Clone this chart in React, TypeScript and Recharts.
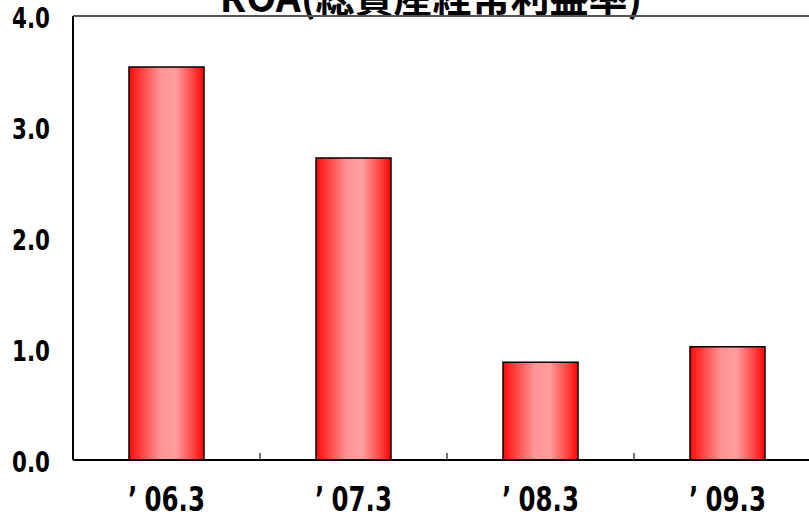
import { BarChart, Bar, XAxis, YAxis, ReferenceLine } from 'recharts'

const periods = ['’06.3', '’07.3', '’08.3', '’09.3']
const roa = [3.54, 2.72, 0.88, 1.02]
const yTicks = [0, 1, 2, 3, 4]

const data = periods.map((period, i) => ({ period, roa: roa[i] }))

const tickFont = '"DejaVu Sans Condensed", "DejaVu Sans", sans-serif'

// category label: narrow bold digits, the leading quote set apart a little
const XTick = (props: any) => {
  const { x, y, payload } = props
  const half = payload && payload.offset ? payload.offset : 93.5
  const label = String(payload.value)
  return (
    <g>
      <line x1={x + half} y1={y} x2={x + half} y2={y - 7} stroke="#444" strokeWidth={1.5} />
      <text
        transform={`translate(${x},${y + 51}) scale(0.8,1)`}
        textAnchor="middle"
        fontFamily={tickFont}
        fontWeight="bold"
        fontSize={34}
        fill="#000"
      >
        <tspan>{label.slice(0, 1)}</tspan>
        <tspan dx={9}>{label.slice(1)}</tspan>
      </text>
    </g>
  )
}

const YTick = (props: any) => {
  const { y, payload } = props
  return (
    <text
      transform={`translate(50,${y + 12}) scale(0.85,1)`}
      textAnchor="end"
      fontFamily={tickFont}
      fontWeight="bold"
      fontSize={28}
      fill="#000"
    >
      {payload.value.toFixed(1)}
    </text>
  )
}

export default function App() {
  return (
    <div style={{ position: 'absolute', left: 0, top: 0, width: 809, height: 517, overflow: 'hidden', background: '#fff' }}>
      <BarChart width={831} height={517} data={data} margin={{ top: 16, right: 10, bottom: 0, left: 0 }}>
        <defs>
          <linearGradient id="barFill" x1="0" y1="0" x2="1" y2="0">
            <stop offset="0%" stopColor="#ff0a0a" />
            <stop offset="12%" stopColor="#ff3333" />
            <stop offset="42%" stopColor="#ff9595" />
            <stop offset="62%" stopColor="#ff9d9d" />
            <stop offset="88%" stopColor="#ff3a3a" />
            <stop offset="100%" stopColor="#ff0000" />
          </linearGradient>
        </defs>
        <XAxis
          dataKey="period"
          height={57}
          tickLine={false}
          tickSize={0}
          tickMargin={0}
          axisLine={{ stroke: '#000', strokeWidth: 2 }}
          tick={<XTick />}
          interval={0}
        />
        <YAxis
          width={73}
          domain={[0, 4]}
          ticks={yTicks}
          tickLine={false}
          axisLine={{ stroke: '#000', strokeWidth: 2 }}
          tick={<YTick />}
        />
        <ReferenceLine y={4} stroke="#555" strokeWidth={2} />
        <Bar dataKey="roa" barSize={75} fill="url(#barFill)" stroke="#000" strokeWidth={1.5} isAnimationActive={false} />
        <text
          x={431}
          y={12}
          textAnchor="middle"
          fontFamily='"Noto Sans CJK JP", sans-serif'
          fontWeight="bold"
          fontSize={39}
          fill="#000"
        >
          ROA(総資産経常利益率)
        </text>
      </BarChart>
    </div>
  )
}
